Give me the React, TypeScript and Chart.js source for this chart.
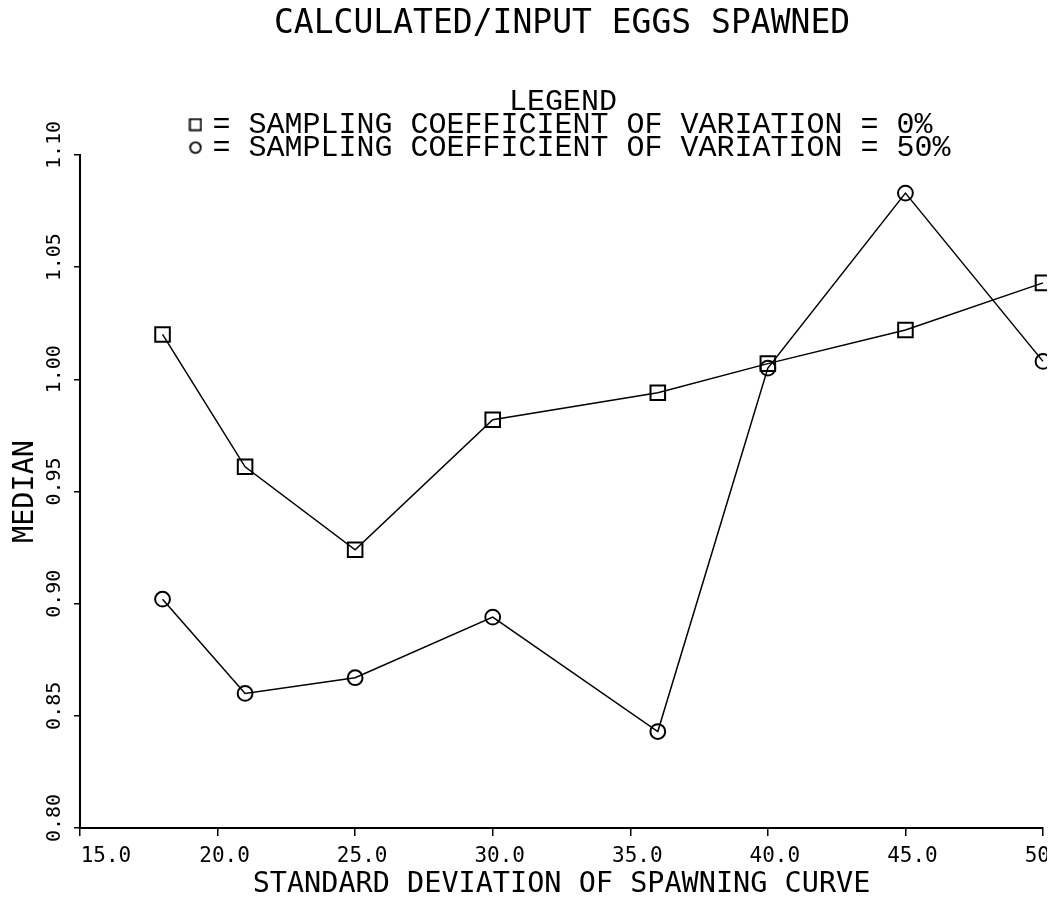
import React, { useEffect, useRef } from "react";
import { Chart, registerables } from "chart.js";

Chart.register(...registerables);

// ---- data ----
const spawnSD = [18, 21, 25, 30, 36, 40, 45, 50];
const medianCv0 = [1.02, 0.961, 0.924, 0.982, 0.994, 1.007, 1.022, 1.043];
const medianCv50 = [0.902, 0.86, 0.867, 0.894, 0.843, 1.005, 1.083, 1.008];
const xTickLabels = ["15.0", "20.0", "25.0", "30.0", "35.0", "40.0", "45.0", "50.0"];
const yTickLabels = ["0.80", "0.85", "0.90", "0.95", "1.00", "1.05", "1.10"];
const seriesLabels = [
  "= SAMPLING COEFFICIENT OF VARIATION = 0% ",
  "= SAMPLING COEFFICIENT OF VARIATION = 50%",
];
const titleText = "CALCULATED/INPUT EGGS SPAWNED ";
const legendTitle = "LEGEND ";
const xTitle = "STANDARD DEVIATION OF SPAWNING CURVE";
const yTitle = "MEDIAN";

const FONT = "'DejaVu Sans Mono', monospace";
const LFONT = "'Liberation Mono', 'DejaVu Sans Mono', monospace";
const W = 1144;
const H = 903;
const PLOT_LEFT = 80;
const PLOT_RIGHT = 1043;
const PLOT_TOP = 155;
const PLOT_BOTTOM = 828;

function makeMarker(kind: string) {
  const c = document.createElement("canvas");
  c.width = 14;
  c.height = 14;
  const g = c.getContext("2d")!;
  g.strokeStyle = "#000";
  g.lineWidth = 1.8;
  if (kind === "rect") {
    g.strokeRect(1.5, 1.5, 11, 11);
  } else {
    g.beginPath();
    g.arc(7, 7, 5.3, 0, Math.PI * 2);
    g.stroke();
  }
  return c;
}

const yLabelPlugin = {
  id: "yRotLabels",
  afterLayout(chart: any) {
    // let the legend rows draw over the top of the plot area without being clipped
    const lg = chart.legend;
    if (lg) lg.bottom = lg.top + lg.height + 40;
  },
  afterDraw(chart: any) {
    const s = chart.scales.y;
    const ctx = chart.ctx;
    ctx.save();
    ctx.fillStyle = "#000";
    ctx.font = `20px ${FONT}`;
    ctx.textAlign = "center";
    ctx.textBaseline = "middle";
    s.ticks.forEach((t: any, i: number) => {
      const py = s.getPixelForValue(t.value);
      ctx.save();
      ctx.translate(s.right - 25, py - 10);
      ctx.rotate(-Math.PI / 2);
      ctx.fillText(yTickLabels[i] ?? "", 0, 0);
      ctx.restore();
    });
    ctx.restore();
  },
};

export default function App() {
  const ref = useRef<HTMLCanvasElement | null>(null);

  useEffect(() => {
    if (!ref.current) return;
    const markers = [makeMarker("rect"), makeMarker("circle")];
    const titleBoxH = 5 + 33 * 1.2;
    const chart = new Chart(ref.current, {
      type: "line",
      data: {
        datasets: [
          {
            label: seriesLabels[0],
            data: spawnSD.map((x, i) => ({ x, y: medianCv0[i] })),
            borderColor: "#000",
            borderWidth: 1.5,
            pointStyle: "rect",
            pointRadius: 10.3,
            pointBorderWidth: 2,
            pointBorderColor: "#000",
            pointBackgroundColor: "rgba(0,0,0,0)",
            tension: 0,
            clip: false as any,
          },
          {
            label: seriesLabels[1],
            data: spawnSD.map((x, i) => ({ x, y: medianCv50[i] })),
            borderColor: "#000",
            borderWidth: 1.5,
            pointStyle: "circle",
            pointRadius: 7.4,
            pointBorderWidth: 2,
            pointBorderColor: "#000",
            pointBackgroundColor: "rgba(0,0,0,0)",
            tension: 0,
            clip: false as any,
          },
        ],
      },
      options: {
        animation: false,
        responsive: false,
        devicePixelRatio: 1,
        events: [],
        layout: { padding: 0 },
        scales: {
          x: {
            type: "linear",
            min: 15,
            max: 50,
            ticks: {
              stepSize: 5,
              autoSkip: false,
              maxRotation: 0,
              minRotation: 0,
              labelOffset: 7,
              padding: 8,
              color: "#000",
              font: { family: FONT, size: 21 },
              callback: (v: any) => {
                const i = Math.round((Number(v) - 15) / 5);
                const lab = xTickLabels[i] ?? "";
                return i === 0 ? "   " + lab : lab;
              },
            },
            grid: {
              display: true,
              drawOnChartArea: false,
              drawTicks: true,
              tickLength: 8,
              color: "#000",
              lineWidth: 1.5,
            },
            border: { display: true, color: "#000", width: 2 },
            title: {
              display: true,
              text: xTitle,
              color: "#000",
              font: { family: FONT, size: 28.5 },
              padding: { top: 1, bottom: 1 },
            },
            afterFit: (s: any) => {
              s.height = H - PLOT_BOTTOM;
              s.paddingLeft = 0;
              s.paddingRight = W - PLOT_RIGHT;
            },
          },
          y: {
            type: "linear",
            min: 0.8,
            max: 1.1,
            ticks: { stepSize: 0.05, display: false },
            grid: {
              display: true,
              drawOnChartArea: false,
              drawTicks: true,
              tickLength: 6,
              color: "#000",
              lineWidth: 1.5,
            },
            border: { display: true, color: "#000", width: 2 },
            title: {
              display: true,
              text: yTitle,
              color: "#000",
              font: { family: FONT, size: 28.5 },
              padding: { top: 8, bottom: 8 },
            },
            afterFit: (s: any) => {
              s.width = PLOT_LEFT;
              s.paddingTop = 0;
              s.paddingBottom = 0;
            },
          },
        },
        plugins: {
          title: {
            display: true,
            text: titleText,
            color: "#000",
            font: { family: FONT, size: 33, weight: "normal" as any },
            padding: { top: 5, bottom: 0 },
          },
          legend: {
            display: true,
            position: "top",
            maxHeight: PLOT_TOP - titleBoxH,
            labels: {
              color: "#000",
              font: { family: LFONT, size: 30 },
              usePointStyle: true,
              boxWidth: 4,
              boxHeight: 14,
              padding: -7,
              generateLabels: (c: any) =>
                c.data.datasets.map((ds: any, i: number) => ({
                  text: ds.label,
                  fillStyle: "rgba(0,0,0,0)",
                  strokeStyle: "#000",
                  lineWidth: 0,
                  pointStyle: markers[i],
                  hidden: false,
                  datasetIndex: i,
                  fontColor: "#000",
                })),
            },
            title: {
              display: true,
              text: legendTitle,
              color: "#000",
              font: { family: LFONT, size: 30, lineHeight: 1 },
              padding: { top: 42, bottom: 0 },
            },
          },
          tooltip: { enabled: false },
        },
      } as any,
      plugins: [yLabelPlugin],
    });
    return () => chart.destroy();
  }, []);

  return (
    <div
      style={{
        position: "absolute",
        left: 0,
        top: 0,
        width: 1047,
        height: H,
        overflow: "hidden",
        background: "#fff",
      }}
    >
      <canvas ref={ref} width={W} height={H} style={{ display: "block", width: W, height: H }} />
    </div>
  );
}
